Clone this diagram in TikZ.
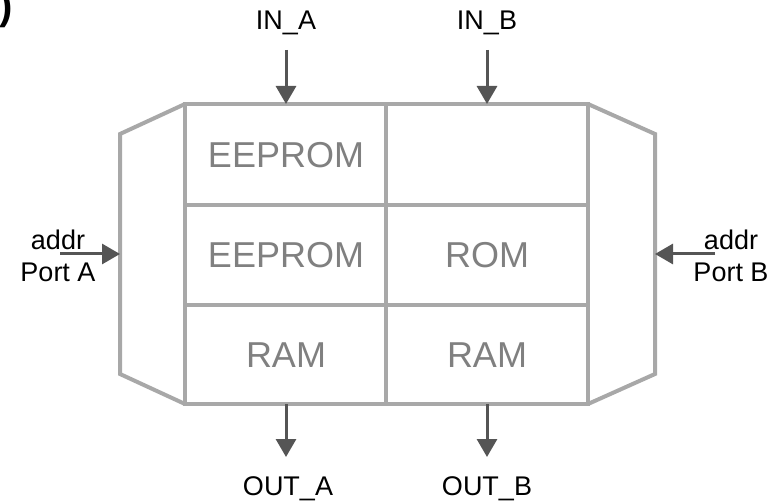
\documentclass[tikz,border=0pt]{standalone}
\usepackage{fontspec}
\setmainfont{Liberation Sans}
\usetikzlibrary{arrows.meta}
\definecolor{boxgray}{HTML}{A8A8A8}
\definecolor{txtgray}{HTML}{808080}
\definecolor{arrgray}{HTML}{555555}
\tikzset{
  frame/.style={draw=boxgray, line width=4pt, line join=miter},
  celltext/.style={text=txtgray, font=\fontsize{36}{40}\selectfont, inner sep=0pt},
  label/.style={text=black, font=\fontsize{27}{32}\selectfont, inner sep=0pt, align=center},
  sig/.style={draw=arrgray, line width=3pt, -{Triangle[length=18pt,width=20pt]}}
}
\begin{document}
\begin{tikzpicture}[x=1pt,y=-1pt]
\useasboundingbox (0,0) rectangle (779,502);
% partial label at the corner
\node[anchor=base east, inner sep=0pt, font=\bfseries\fontsize{40}{44}\selectfont] (corner) at (13,20) {)};
% main outline
\coordinate (tl) at (185,104);
\coordinate (tr) at (588,104);
\coordinate (bl) at (185,404);
\coordinate (br) at (588,404);
\draw[frame] (tl) -- (tr) -- (br) -- (bl) -- cycle;
\draw[frame] (386,104) -- (386,404);
\draw[frame] (185,205) -- (588,205);
\draw[frame] (185,305) -- (588,305);
% left and right muxes
\coordinate (lmt) at (120,134);
\coordinate (lmb) at (120,374);
\coordinate (rmt) at (655,134);
\coordinate (rmb) at (655,374);
\draw[frame] (tl) -- (lmt) -- (lmb) -- (bl);
\draw[frame] (tr) -- (rmt) -- (rmb) -- (br);
% cell texts
\node[celltext] (c11) at (286,155) {EEPROM};
\node[celltext] (c21) at (286,255) {EEPROM};
\node[celltext] (c22) at (487,255) {ROM};
\node[celltext] (c31) at (286,355) {RAM};
\node[celltext] (c32) at (487,355) {RAM};
% inputs
\node[label] (ina) at (286,23) {IN\_A};
\node[label] (inb) at (487,23) {IN\_B};
\coordinate (ina0) at (286,50);
\coordinate (inb0) at (487,50);
\coordinate (ina1) at (286,104);
\coordinate (inb1) at (487,104);
\draw[sig] (ina0) -- (ina1);
\draw[sig] (inb0) -- (inb1);
% outputs
\node[label] (outa) at (288,489) {OUT\_A};
\node[label] (outb) at (487,489) {OUT\_B};
\coordinate (outa0) at (286,404);
\coordinate (outb0) at (487,404);
\coordinate (outa1) at (286,457);
\coordinate (outb1) at (487,457);
\draw[sig] (outa0) -- (outa1);
\draw[sig] (outb0) -- (outb1);
% address ports
\node[label] (pa) at (58,256) {addr\\Port A};
\node[label] (pb) at (731,256) {addr\\Port B};
\coordinate (pa0) at (60,254);
\coordinate (pa1) at (120,254);
\coordinate (pb0) at (715,254);
\coordinate (pb1) at (655,254);
\draw[sig] (pa0) -- (pa1);
\draw[sig] (pb0) -- (pb1);
\end{tikzpicture}
\end{document}
